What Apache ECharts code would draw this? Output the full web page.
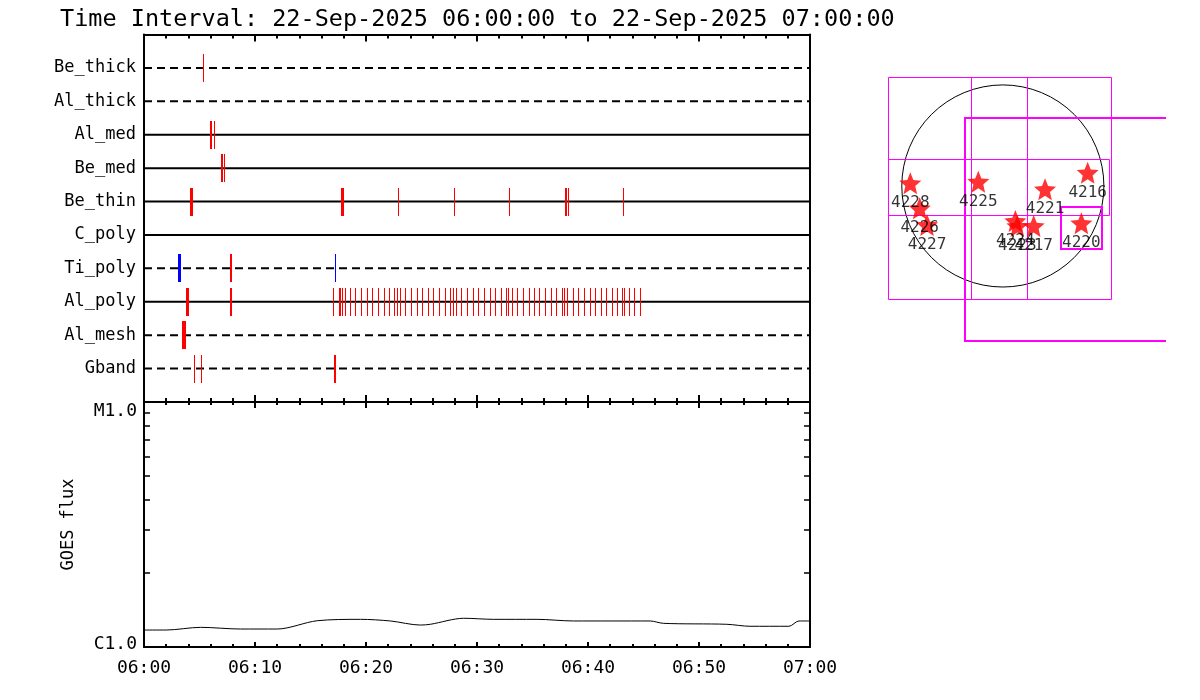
<!DOCTYPE html>
<html>
<head>
<meta charset="utf-8">
<script src="https://cdn.jsdelivr.net/npm/echarts@6/dist/echarts.min.js"></script>
<style>
  html, body { margin: 0; background: #fff; }
  #chart { width: 1200px; height: 700px; }
</style>
</head>
<body>
<div id="chart"></div>
<script>
// detector rows, bottom to top
const detectors = ['Gband', 'Al_mesh', 'Al_poly', 'Ti_poly', 'C_poly', 'Be_thin', 'Be_med', 'Al_med', 'Al_thick', 'Be_thick']
const dashedDetectors = ['Gband', 'Al_mesh', 'Ti_poly', 'Al_thick', 'Be_thick']

// event times, minutes after 06:00
const redHeavy = [['Be_thin', 4.26], ['Be_thin', 17.87], ['Al_poly', 3.9]]
const redMedium = [['Al_med', 6.04], ['Be_med', 7.03], ['Be_thin', 37.99], ['Ti_poly', 7.81], ['Al_poly', 7.81],
  ['Gband', 17.2], ['Al_mesh', 3.49], ['Al_mesh', 3.67]]
const redLight = [['Be_thick', 5.34], ['Al_med', 6.34], ['Be_med', 7.24], ['Be_thin', 22.9], ['Be_thin', 27.96],
  ['Be_thin', 32.9], ['Be_thin', 38.2], ['Be_thin', 43.2], ['Gband', 4.53], ['Gband', 5.16]]
const blueHeavy = [['Ti_poly', 3.18]]
const blueLight = [['Ti_poly', 17.24]]
const alPolyBurst = [17.05, 17.59, 17.68, 17.84, 18.17, 18.59, 19.04, 19.58, 20.12, 20.57, 21.11, 21.65, 22.1,
  22.55, 22.82, 23.09, 23.54, 24.08, 24.62, 25.07, 25.61, 26.06, 26.6, 27.14, 27.59, 27.86, 28.14, 28.59, 29.13,
  29.67, 30.12, 30.66, 31.2, 31.65, 32.19, 32.64, 32.82, 33.18, 33.63, 34.17, 34.71, 35.16, 35.61, 36.15, 36.69,
  37.14, 37.68, 37.86, 38.14, 38.68, 39.13, 39.67, 40.21, 40.66, 41.2, 41.71, 42.19, 42.64, 43.09, 43.27, 43.72,
  44.17, 44.71]

const timeLabels = ['06:00', '06:10', '06:20', '06:30', '06:40', '06:50', '07:00']

// GOES flux (W/m^2)
const goesMinutes = [0, 2, 5.1, 8.7, 12, 15.6, 19.5, 22.2, 24.9, 25.8, 28.8, 31.5, 35.4, 38.7, 45.6, 46.8, 52.5, 54.6, 58.1, 59, 60]
const goesFlux = [1.173e-6, 1.173e-6, 1.203e-6, 1.184e-6, 1.184e-6, 1.28e-6, 1.297e-6, 1.277e-6, 1.229e-6, 1.238e-6,
  1.31e-6, 1.297e-6, 1.297e-6, 1.277e-6, 1.277e-6, 1.249e-6, 1.238e-6, 1.215e-6, 1.215e-6, 1.277e-6, 1.277e-6]
const goesLevels = [1e-6, 1e-5]
const goesLevelNames = ['C1.0', 'M1.0']
const goesMinorTicks = [2e-6, 3e-6, 4e-6, 5e-6, 6e-6, 7e-6, 8e-6, 9e-6]

// solar map, arcsec
const diskRadius = 960
const regionNames = ['4216', '4228', '4225', '4221', '4226', '4227', '4224', '4223', '4217', '4220']
const regionX = [806, -879, -233, 401, -790, -720, 119, 138, 293, 746]
const regionY = [126, 26, 41, -31, -212, -370, -333, -380, -380, -354]
const fovBoxes = [[-1091, -1083, 1031, 1033], [-302, -1083, 230, 1033], [-1091, -285, 1015, 247]]
const boldBoxes = [[-359, -1470, 2000, 643], [556, -598, 945, -197]]

const MONO = 'DejaVu Sans Mono'
const STAR = 'path://M50,0 L63.2,31.8 L97.6,34.6 L71.4,57 L79.4,90.5 L50,72.5 L20.6,90.5 L28.6,57 L2.4,34.6 L36.8,31.8 Z'
const rowOf = (name) => detectors.indexOf(name) + 1
// snap odd-width strokes onto pixel centres so they stay crisp
const crisp = (v, w) => (w % 2 === 1 ? Math.round(v - 0.5) + 0.5 : Math.round(v))

function eventSeries(list, color, width) {
  return {
    type: 'custom',
    xAxisIndex: 0,
    yAxisIndex: 0,
    z: 5,
    data: list.map(([d, t]) => [t, rowOf(d)]),
    renderItem(params, api) {
      const a = api.coord([api.value(0), api.value(1) - 0.42])
      const b = api.coord([api.value(0), api.value(1) + 0.42])
      const x = crisp(a[0], width)
      return { type: 'line', shape: { x1: x, y1: Math.round(a[1]), x2: x, y2: Math.round(b[1]) }, style: { stroke: color, lineWidth: width } }
    },
  }
}

function boxSeries(list, width) {
  return {
    type: 'custom',
    xAxisIndex: 4,
    yAxisIndex: 4,
    z: 3,
    encode: { x: [0, 2], y: [1, 3] },
    data: list,
    renderItem(params, api) {
      const tl = api.coord([api.value(0), api.value(3)])
      const br = api.coord([api.value(2), api.value(1)])
      const cs = params.coordSys
      const edge = Math.round(cs.x + cs.width)
      const x0 = crisp(tl[0], width), y0 = crisp(tl[1], width)
      const x1 = crisp(br[0], width), y1 = crisp(br[1], width)
      const style = { stroke: '#ff00ff', fill: 'none', lineWidth: width }
      if (br[0] > edge) {
        return { type: 'polyline', shape: { points: [[edge, y0], [x0, y0], [x0, y1], [edge, y1]] }, style }
      }
      return { type: 'rect', shape: { x: x0, y: y0, width: x1 - x0, height: y1 - y0 }, style }
    },
  }
}

const timeAxis = (grid, pos, tickLen, minorLen, labels) => ({
  type: 'value', gridIndex: grid, position: pos, min: 0, max: 60, interval: 10,
  axisLine: { onZero: false, lineStyle: { color: '#000', width: 2 } },
  axisTick: { inside: true, length: tickLen, lineStyle: { color: '#000', width: 2 } },
  minorTick: { show: true, splitNumber: 5, length: minorLen, lineStyle: { color: '#000', width: 2 } },
  splitLine: { show: false },
  axisLabel: labels
    ? { show: true, margin: 12, fontFamily: MONO, fontSize: 18, color: '#000', formatter: (v) => timeLabels[Math.round(v / 10)] }
    : { show: false },
})

const goesAxis = (pos, withLabels) => ({
  type: 'log', gridIndex: 1, position: pos, logBase: 10, min: 1e-6, max: 1e-5,
  axisLine: { onZero: false, lineStyle: { color: '#000', width: 2 } },
  axisTick: { inside: true, length: 6, customValues: goesMinorTicks, lineStyle: { color: '#000', width: 1.5 } },
  splitLine: { show: false },
  minorTick: { show: false },
  axisLabel: withLabels
    ? {
        show: true, customValues: goesLevels, margin: 7, fontFamily: MONO, fontSize: 18, color: '#000',
        formatter: (v) => (v > 5e-6 ? '{hi|' + goesLevelNames[1] + '}' : '{lo|' + goesLevelNames[0] + '}'),
        rich: {
          hi: { fontFamily: MONO, fontSize: 18, color: '#000', padding: [18, 0, 0, 0] },
          lo: { fontFamily: MONO, fontSize: 18, color: '#000', padding: [0, 0, 6, 0] },
        },
      }
    : { show: false },
  name: withLabels ? 'GOES flux' : '',
  nameLocation: 'middle',
  nameGap: 67,
  nameRotate: 90,
  nameTextStyle: { fontFamily: MONO, fontSize: 17, color: '#000' },
})

const chart = echarts.init(document.getElementById('chart'), null, { renderer: 'canvas' })

chart.setOption({
  backgroundColor: '#fff',
  animation: false,
  title: {
    text: 'Time Interval: 22-Sep-2025 06:00:00 to 22-Sep-2025 07:00:00',
    left: 55, top: 3,
    textStyle: { fontFamily: MONO, fontSize: 23.5, fontWeight: 'normal', color: '#000' },
  },
  grid: [
    { left: 144, top: 34.5, width: 666, height: 367.5 },
    { left: 144, top: 402, width: 666, height: 245 },
    { left: 866, top: 38.6, width: 300, height: 315.8 },
  ],
  xAxis: [
    timeAxis(0, 'top', 7, 4, false),
    timeAxis(0, 'bottom', 7, 4, false),
    timeAxis(1, 'top', 6, 3, false),
    timeAxis(1, 'bottom', 5, 3, true),
    { type: 'value', gridIndex: 2, min: -1300, max: 1550, show: false },
  ],
  yAxis: [
    {
      type: 'value', gridIndex: 0, position: 'left', min: 0, max: 11, interval: 1,
      axisLine: { onZero: false, lineStyle: { color: '#000', width: 2 } },
      axisTick: { show: false }, splitLine: { show: false },
      axisLabel: { margin: 8, fontFamily: MONO, fontSize: 17, color: '#000', formatter: (v) => detectors[v - 1] || '' },
    },
    {
      type: 'value', gridIndex: 0, position: 'right', min: 0, max: 11,
      axisLine: { onZero: false, lineStyle: { color: '#000', width: 2 } },
      axisTick: { show: false }, splitLine: { show: false }, axisLabel: { show: false },
    },
    goesAxis('left', true),
    goesAxis('right', false),
    { type: 'value', gridIndex: 2, min: -1600, max: 1400, show: false },
  ],
  series: [
    ...detectors.map((d) => ({
      type: 'line', xAxisIndex: 0, yAxisIndex: 0, symbol: 'none', silent: true, z: 2,
      data: [[0, rowOf(d)], [60, rowOf(d)]],
      lineStyle: { color: '#000', width: 2, type: dashedDetectors.includes(d) ? [8, 5] : 'solid' },
    })),
    eventSeries(redHeavy, '#ff0000', 3),
    eventSeries(redMedium, '#ff0000', 2),
    eventSeries(redLight, '#ff0000', 1),
    eventSeries(alPolyBurst.map((t) => ['Al_poly', t]), '#ff0000', 1),
    eventSeries(blueHeavy, '#0000ff', 3),
    eventSeries(blueLight, '#0000ff', 1),
    {
      type: 'line', xAxisIndex: 3, yAxisIndex: 2, symbol: 'none', smooth: 0.3,
      data: goesMinutes.map((t, i) => [t, goesFlux[i]]),
      lineStyle: { color: '#000', width: 1 },
    },
    {
      type: 'custom', xAxisIndex: 4, yAxisIndex: 4, z: 2,
      data: [[0, 0, diskRadius]],
      renderItem(params, api) {
        const c = api.coord([api.value(0), api.value(1)])
        const r = api.size([api.value(2), 0])[0]
        return { type: 'circle', shape: { cx: c[0], cy: c[1], r }, style: { stroke: '#000', fill: 'none', lineWidth: 1 } }
      },
    },
    boxSeries(fovBoxes, 1),
    boxSeries(boldBoxes, 2),
    {
      type: 'scatter', xAxisIndex: 4, yAxisIndex: 4, z: 6,
      symbol: STAR,
      symbolSize: [22, 22],
      itemStyle: { color: '#ff0000' },
      label: { show: true, position: 'bottom', distance: 1, fontFamily: MONO, fontSize: 16, color: '#000', formatter: (p) => p.name },
      data: regionNames.map((n, i) => ({ name: n, value: [regionX[i], regionY[i]] })),
    },
  ],
})
</script>
</body>
</html>
